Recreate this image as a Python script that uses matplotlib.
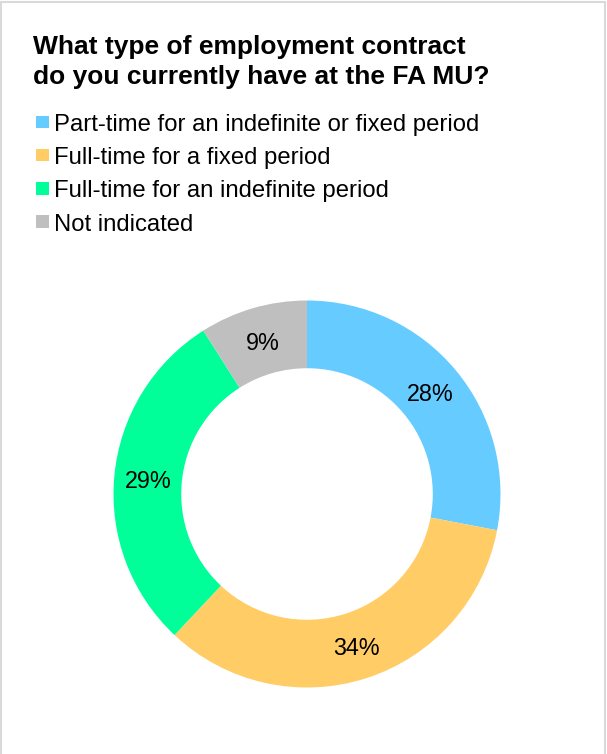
import matplotlib
matplotlib.use("Agg")
import matplotlib.pyplot as plt
from matplotlib.patches import Rectangle

plt.rcParams['font.family'] = ['Liberation Sans', 'DejaVu Sans']

title_lines = ["What type of employment contract", "do you currently have at the FA MU?"]
categories = ["Part-time for an indefinite or fixed period",
              "Full-time for a fixed period",
              "Full-time for an indefinite period",
              "Not indicated"]
values = [28, 34, 29, 9]
colors = ["#66CCFF", "#FFCC66", "#00FF99", "#BFBFBF"]

W, H = 607, 754
fig = plt.figure(figsize=(W / 100, H / 100), dpi=100)

def fx(px):
    return px / W

def fy(py):
    return 1 - py / H

# frame
fig.add_artist(Rectangle((fx(1.5), fy(770)), fx(603), (770 - 1.5) / H,
                         transform=fig.transFigure, fill=False,
                         edgecolor="#D9D9D9", linewidth=1.5))

# title
for i, line in enumerate(title_lines):
    fig.text(fx(33), fy(54 + 30 * i), line, fontsize=19, fontweight='bold',
             va='baseline', ha='left', color='black')

# legend
baselines = [131, 164, 197.5, 231]
for lab, col, b in zip(categories, colors, baselines):
    fig.add_artist(Rectangle((fx(36), fy(b - 3)), fx(12.5), 12.5 / H,
                             transform=fig.transFigure, facecolor=col,
                             edgecolor='none'))
    fig.text(fx(54), fy(b), lab, fontsize=17.2, va='baseline', ha='left',
             color='black')

# donut
cx, cy, R = 307, 494, 193.5
half = 205
ax = fig.add_axes([fx(cx - half), fy(cy + half), 2 * half / W, 2 * half / H])
wedges, texts = ax.pie(values, colors=colors, startangle=90, counterclock=False,
                       radius=1, wedgeprops=dict(width=0.35, edgecolor='none'),
                       labels=[f"{v}%" for v in values], labeldistance=0.825)
for t in texts:
    t.set_ha('center')
    t.set_va('center_baseline')
    t.set_fontsize(16.8)
L = half / R
ax.set_xlim(-L, L)
ax.set_ylim(-L, L)
ax.set_aspect('equal')
ax.axis('off')

fig.savefig("out.png", dpi=100)
